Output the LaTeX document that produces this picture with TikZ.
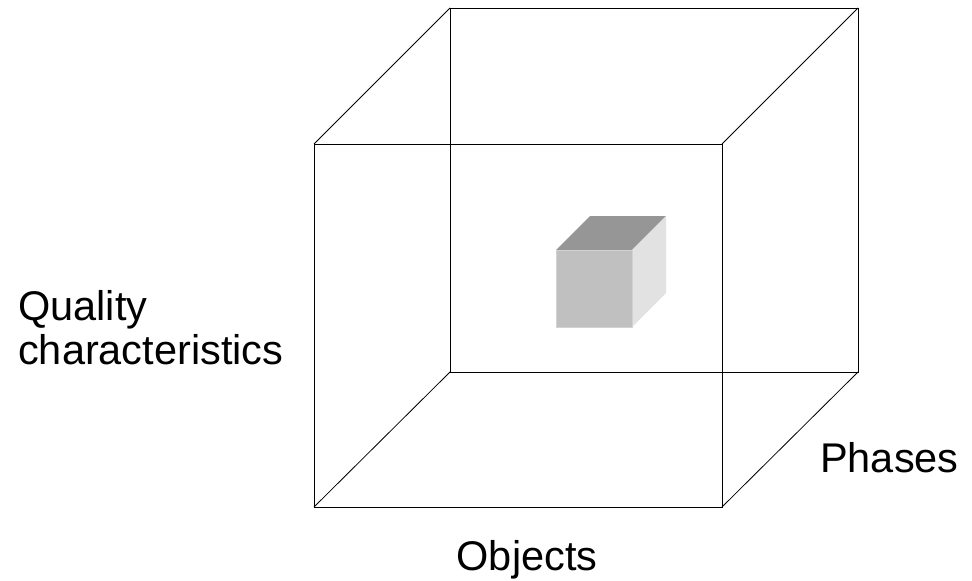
\documentclass[tikz,border=0pt]{standalone}
\usepackage{fontspec}
\setmainfont{Liberation Sans}
\usetikzlibrary{positioning,calc}
\definecolor{clTop}{HTML}{969696}
\definecolor{clFront}{HTML}{C0C0C0}
\definecolor{clSide}{HTML}{E2E2E2}
\definecolor{clRim}{HTML}{D2D2D2}
\tikzset{
  edge/.style={draw=black, line width=0.8pt, line join=miter},
  axislabel/.style={font=\fontsize{41.5}{44}\selectfont, inner sep=0pt, align=left},
}
\begin{document}
\begin{tikzpicture}[x=1pt, y=-1pt]
  \useasboundingbox (0,0) rectangle (972,581);
  % outer cube: front face and back face
  \coordinate (fa) at (314,144); \coordinate (fb) at (722,144);
  \coordinate (fc) at (722,507); \coordinate (fd) at (314,507);
  \coordinate (ba) at (450,8);   \coordinate (bb) at (858,8);
  \coordinate (bc) at (858,372); \coordinate (bd) at (450,372);
  \draw[edge] (ba) -- (bb) -- (bc) -- (bd) -- cycle;
  \draw[edge] (fa) -- (fb) -- (fc) -- (fd) -- cycle;
  \draw[edge] (fa) -- (ba); \draw[edge] (fb) -- (bb);
  \draw[edge] (fc) -- (bc); \draw[edge] (fd) -- (bd);
  % small cell
  \coordinate (sa) at (556,250); \coordinate (sb) at (632,250);
  \coordinate (sc) at (632,327); \coordinate (sd) at (556,327);
  \coordinate (ta) at (590,216); \coordinate (tb) at (666,216);
  \coordinate (tc) at (666,293);
  \fill[clTop] (sa) -- (ta) -- (tb) -- (sb) -- cycle;
  \fill[clSide] (sb) -- (tb) -- (tc) -- (sc) -- cycle;
  \fill[clFront, draw=clRim, line width=1pt] (sa) -- (sb) -- (sc) -- (sd) -- cycle;
  % labels
  \node[axislabel, anchor=base west] (quality) at (18,364) {Quality\\characteristics};
  \node[axislabel, anchor=base west] (phases) at (820,472) {Phases};
  \node[axislabel, anchor=base] (objects) at (527,570) {Objects};
\end{tikzpicture}
\end{document}
